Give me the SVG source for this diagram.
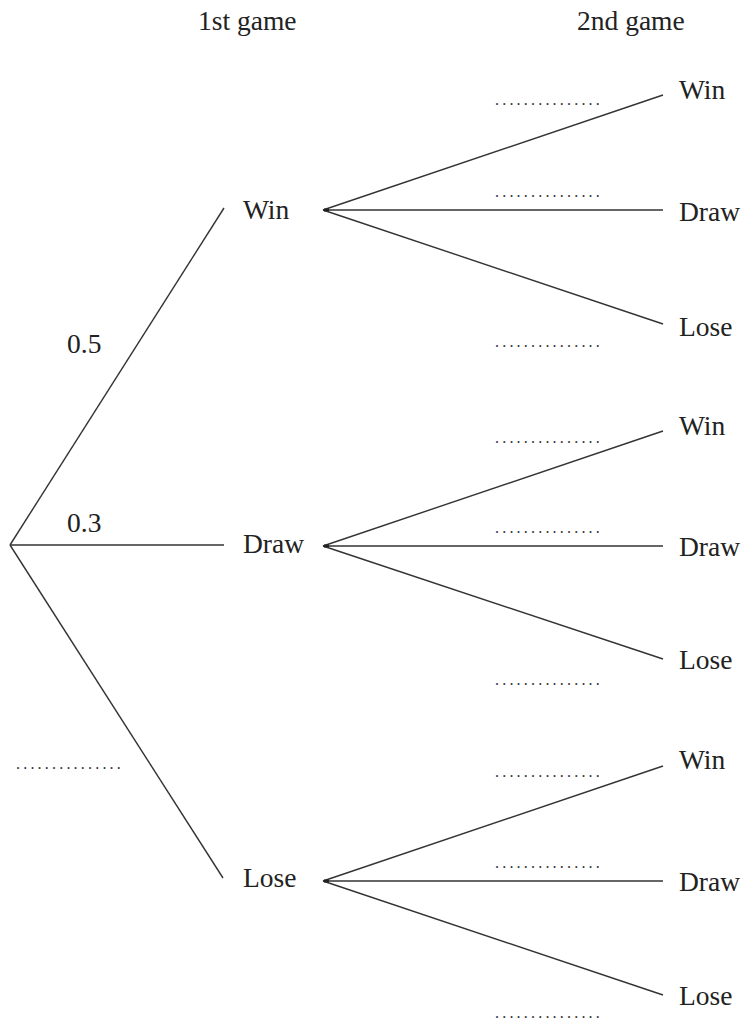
<svg xmlns="http://www.w3.org/2000/svg" width="745" height="1025" viewBox="0 0 745 1025">
<style>
.t{font-family:"Liberation Serif","Times New Roman",serif;font-size:27.5px;fill:#222}
.d{font-family:"Liberation Serif","Times New Roman",serif;font-size:16px;fill:#333;letter-spacing:3.2px}
.c line{stroke:#333;stroke-width:1.4;fill:none}
</style>
<rect width="745" height="1025" fill="#fff"/>
<g id="headers">
<text class="t" x="198" y="30">1st game</text>
<text class="t" x="577" y="30">2nd game</text>
</g>
<g id="connectors" class="c">
<line x1="10" y1="545" x2="224" y2="208"/>
<line x1="10" y1="545" x2="224" y2="545"/>
<line x1="10" y1="545" x2="223" y2="878"/>
<line x1="323" y1="210" x2="663" y2="95"/>
<line x1="323" y1="210" x2="663" y2="210"/>
<line x1="323" y1="210" x2="663" y2="324"/>
<line x1="323" y1="546" x2="663" y2="431"/>
<line x1="323" y1="546" x2="663" y2="546"/>
<line x1="323" y1="546" x2="663" y2="659"/>
<line x1="323" y1="881" x2="663" y2="766"/>
<line x1="323" y1="881" x2="663" y2="881"/>
<line x1="323" y1="881" x2="663" y2="995"/>
</g>
<g id="probabilities">
<text class="t" x="67" y="353">0.5</text>
<text class="t" x="67" y="532">0.3</text>
<text class="d" x="16" y="769">...............</text>
</g>
<g id="n1-win"><text class="t" x="243" y="219">Win</text><rect x="324" y="208.5" width="5" height="3" fill="#222"/></g>
<g id="n1-draw"><text class="t" x="243" y="553">Draw</text><rect x="324" y="544.5" width="5" height="3" fill="#222"/></g>
<g id="n1-lose"><text class="t" x="243" y="887">Lose</text><rect x="324" y="879.5" width="5" height="3" fill="#222"/></g>
<g id="n2-ww"><text class="t" x="679" y="99">Win</text><text class="d" x="495" y="105">...............</text></g>
<g id="n2-wd"><text class="t" x="679" y="221">Draw</text><text class="d" x="495" y="197">...............</text></g>
<g id="n2-wl"><text class="t" x="679" y="336">Lose</text><text class="d" x="495" y="347">...............</text></g>
<g id="n2-dw"><text class="t" x="679" y="435">Win</text><text class="d" x="495" y="443">...............</text></g>
<g id="n2-dd"><text class="t" x="679" y="556">Draw</text><text class="d" x="495" y="533">...............</text></g>
<g id="n2-dl"><text class="t" x="679" y="669">Lose</text><text class="d" x="495" y="685">...............</text></g>
<g id="n2-lw"><text class="t" x="679" y="769">Win</text><text class="d" x="495" y="777">...............</text></g>
<g id="n2-ld"><text class="t" x="679" y="891">Draw</text><text class="d" x="495" y="868">...............</text></g>
<g id="n2-ll"><text class="t" x="679" y="1005">Lose</text><text class="d" x="495" y="1018">...............</text></g>
</svg>
